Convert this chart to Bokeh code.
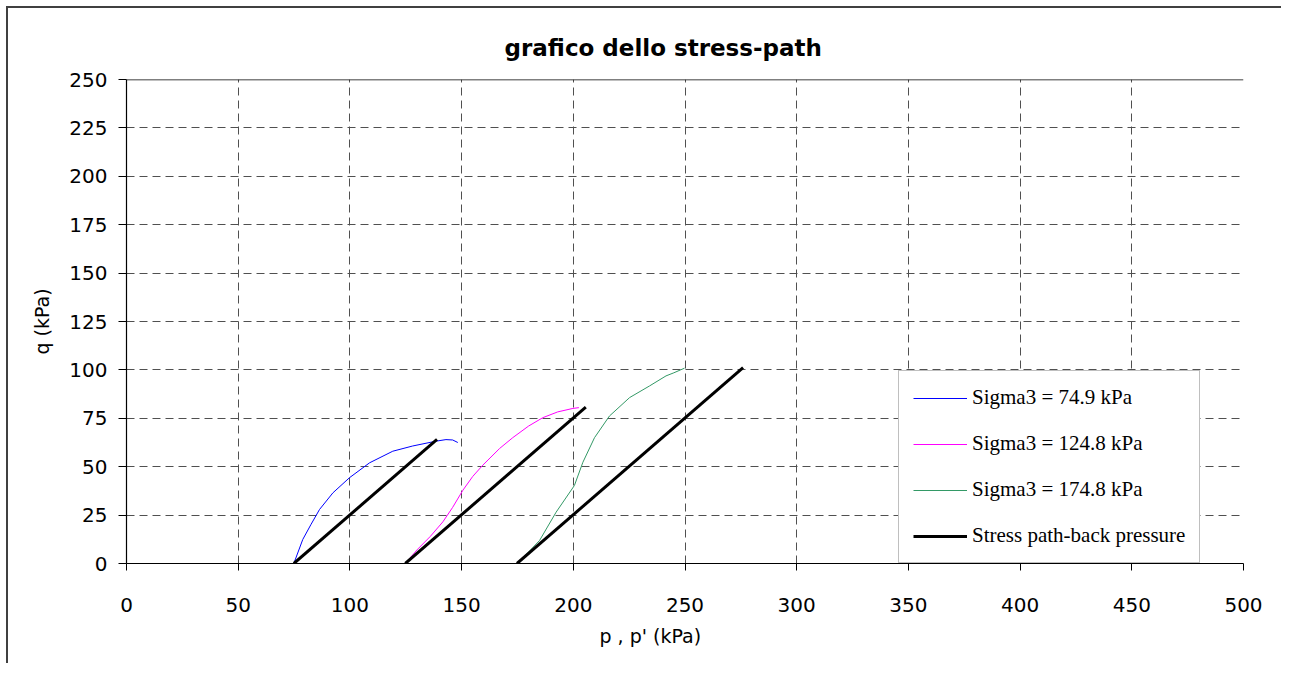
from bokeh.plotting import figure
from bokeh.models import Range1d, SingleIntervalTicker, Span, Title, Legend, LegendItem
from bokeh.embed import file_html
from bokeh.resources import INLINE

# ---------------- data ----------------
title_text = "grafico dello stress-path"
x_label = "p , p' (kPa)"
y_label = "q (kPa)"

series_names = ["Sigma3 = 74.9 kPa", "Sigma3 = 124.8 kPa", "Sigma3 = 174.8 kPa"]
path_name = "Stress path-back pressure"

p_s1 = [74.9, 78.9, 82.5, 86.4, 92.4, 99.8, 108.8, 119.2, 128.1, 138.6, 143.0, 146.0, 148.3]
q_s1 = [0.0, 12.4, 20.0, 27.9, 36.5, 44.3, 52.0, 58.0, 60.7, 63.2, 64.0, 63.8, 62.5]

p_s2 = [124.8, 130.0, 136.0, 141.6, 146.0, 150.6, 155.0, 159.5, 167.0, 172.9, 180.0, 186.3, 193.0, 199.8, 202.5]
q_s2 = [0.0, 7.0, 14.0, 21.5, 29.0, 37.9, 45.0, 50.8, 59.4, 65.0, 71.0, 75.3, 78.3, 80.1, 80.5]

p_s3 = [174.8, 180.0, 184.9, 192.3, 200.5, 204.3, 209.5, 216.2, 225.2, 234.1, 241.5, 245.0, 248.0, 249.8]
q_s3 = [0.0, 6.0, 11.9, 26.5, 40.3, 52.3, 65.0, 76.2, 85.7, 91.7, 96.9, 98.5, 100.0, 100.9]

# total stress paths (slope 1): start and end points
path_p = [[74.9, 139.0], [124.8, 205.6], [174.8, 276.0]]
path_q = [[0.0, 64.1], [0.0, 80.8], [0.0, 101.2]]

x_min, x_max, x_step = 0, 500, 50
y_min, y_max, y_step = 0, 250, 25

# ---------------- figure ----------------
tick_font = "DejaVu Sans"

p = figure(width=1275, height=657, output_backend="svg", toolbar_location=None,
           x_range=Range1d(x_min, x_max), y_range=Range1d(y_min, y_max),
           min_border_left=118, min_border_right=40, min_border_top=71, min_border_bottom=102,
           background_fill_color="white", border_fill_color="white")
p.styles = {"border-left": "2px solid #404040", "border-top": "2px solid #404040",
            "margin-left": "6px", "margin-top": "6px"}
p.outline_line_color = None

p.title.text = title_text
p.title.align = "left"
p.title.offset = 378
p.title.standoff = 38
p.title.text_font = tick_font
p.title.text_font_style = "bold"
p.title.text_font_size = "23px"
p.title.text_color = "black"

p.xaxis.ticker = SingleIntervalTicker(interval=x_step)
p.yaxis.ticker = SingleIntervalTicker(interval=y_step)
p.xgrid.ticker = SingleIntervalTicker(interval=x_step)
p.ygrid.ticker = SingleIntervalTicker(interval=y_step)

for g in (p.xgrid, p.ygrid):
    g.grid_line_color = "#505050"
    g.grid_line_dash = "8 5"
    g.grid_line_width = 1

for ax in (p.xaxis, p.yaxis):
    ax.axis_line_color = "black"
    ax.axis_line_width = 1.2
    ax.major_tick_line_color = "black"
    ax.major_tick_in = 0
    ax.minor_tick_line_color = None
    ax.major_label_text_font = tick_font
    ax.major_label_text_font_size = "20px"
    ax.major_label_text_color = "black"

p.xaxis.major_tick_out = 7
p.yaxis.major_tick_out = 8
p.xaxis.major_label_standoff = 27
p.yaxis.major_label_standoff = 11

p.yaxis.axis_label = y_label
p.yaxis.axis_label_text_font = tick_font
p.yaxis.axis_label_text_font_style = "normal"
p.yaxis.axis_label_text_font_size = "19px"
p.yaxis.axis_label_text_color = "black"
p.yaxis.axis_label_standoff = 13

xt = Title(text=x_label, align="left", offset=473, standoff=20, vertical_align="top",
           text_font=tick_font, text_font_style="normal", text_font_size="19px", text_color="black")
p.add_layout(xt, "below")

# top border of plot area
p.add_layout(Span(location=y_max, dimension="width", line_color="black", line_width=1.5))

# ---------------- series ----------------
r1 = p.line(p_s1, q_s1, line_color="#0000FF", line_width=1)
r2 = p.line(p_s2, q_s2, line_color="#FF00FF", line_width=1)
r3 = p.line(p_s3, q_s3, line_color="#339966", line_width=1)
r4 = p.multi_line(path_p, path_q, line_color="black", line_width=3)

legend = Legend(items=[LegendItem(label=series_names[0], renderers=[r1]),
                       LegendItem(label=series_names[1], renderers=[r2]),
                       LegendItem(label=series_names[2], renderers=[r3]),
                       LegendItem(label=path_name, renderers=[r4])],
                location=(772, 0))
legend.margin = 0
legend.padding = 14
legend.spacing = 21
legend.glyph_width = 54
legend.glyph_height = 24
legend.label_height = 24
legend.label_standoff = 5
legend.label_text_font = "Liberation Serif"
legend.label_text_font_size = "21px"
legend.label_text_color = "black"
legend.border_line_color = "#808080"
legend.border_line_width = 1.5
legend.background_fill_color = "white"
legend.background_fill_alpha = 1
p.add_layout(legend, "center")

open("out.html", "w").write(file_html(p, INLINE))
